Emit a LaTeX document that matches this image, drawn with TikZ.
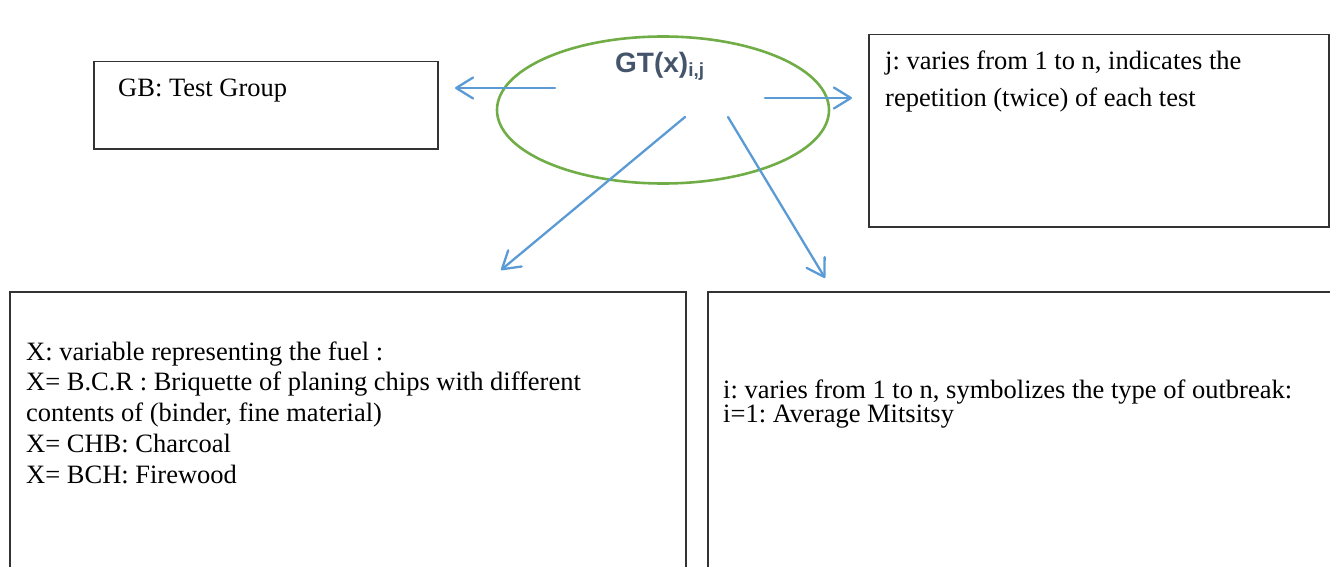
\documentclass[tikz,border=0pt]{standalone}
\usepackage{fontspec}
\setmainfont{Liberation Serif}
\newfontfamily\headsans{Liberation Sans}
\usetikzlibrary{arrows.meta,shapes.geometric}
\definecolor{boxline}{HTML}{333333}
\definecolor{ovalgreen}{HTML}{70AD47}
\definecolor{linkblue}{HTML}{5B9BD5}
\definecolor{titleslate}{HTML}{44546A}
% fixed-height strut so the first baseline sits 22pt below a node's top
\newcommand\firstlinestrut{\rule{0pt}{22pt}}
\frenchspacing

\begin{document}
\begin{tikzpicture}[x=1pt,y=-1pt,
  infobox/.style={draw=boxline, line width=1.5pt, anchor=north west, inner sep=0pt},
  bodytext/.style={anchor=north west, inner sep=0pt, align=left},
  link/.style={draw=linkblue, line width=2.3pt, line cap=round,
    -{Straight Barb[length=17pt,width=21pt,line cap=round,line join=round]}}]
\useasboundingbox (0,0) rectangle (1330,567);
\clip (0,0) rectangle (1330,567);

% central oval with the symbol
\node[draw=ovalgreen, line width=2.6pt, ellipse, inner sep=0pt,
      minimum width=332pt, minimum height=147pt] (oval) at (663,110) {};
\node[anchor=base west, inner sep=0pt, text=titleslate,
      font=\headsans\bfseries\fontsize{28}{30}\selectfont] (symbol) at (615,73)
  {GT(x)\raisebox{-4pt}{\fontsize{19}{19}\selectfont i,j}};

% boxes
\node[infobox, minimum width=344pt, minimum height=87pt]  (groupbox)  at (93,61) {};
\node[infobox, minimum width=460pt, minimum height=192pt] (repbox)    at (868,34) {};
\node[infobox, minimum width=676pt, minimum height=300pt] (fuelbox)   at (9,291) {};
\node[infobox, minimum width=650pt, minimum height=300pt] (typebox)   at (707,291) {};

% box texts
\node[bodytext, font=\fontsize{26.5}{30}\selectfont] (grouptext) at (118,74)
  {\firstlinestrut GB: Test Group};
\node[bodytext, font=\fontsize{26.5}{37}\selectfont] (reptext) at (885,47)
  {\firstlinestrut j: varies from 1 to n, indicates the\\
   repetition (twice) of each test};
\node[bodytext, font=\fontsize{26.5}{30.7}\selectfont] (fueltext) at (26,338)
  {\firstlinestrut X: variable representing the fuel :\\
   X= B.C.R : Briquette of planing chips with different\\
   contents of (binder, fine material)\\
   X= CHB: Charcoal\\
   X= BCH: Firewood};
\node[bodytext, font=\fontsize{26.5}{24}\selectfont] (typetext) at (723,376)
  {\firstlinestrut i: varies from 1 to n, symbolizes the type of outbreak:\\
   i=1: Average Mitsitsy};

% connector ends
\coordinate (leftfrom)  at (555,88);
\coordinate (leftto)    at (455,88);
\coordinate (rightfrom) at (765,98);
\coordinate (rightto)   at (852,98);
\coordinate (fuelfrom)  at (685,117);
\coordinate (fuelto)    at (501,270);
\coordinate (typefrom)  at (728,117);
\coordinate (typeto)    at (825,278);

% connectors
\draw[link] (leftfrom)  -- (leftto);
\draw[link] (rightfrom) -- (rightto);
\draw[link] (fuelfrom)  -- (fuelto);
\draw[link] (typefrom)  -- (typeto);
\end{tikzpicture}
\end{document}
